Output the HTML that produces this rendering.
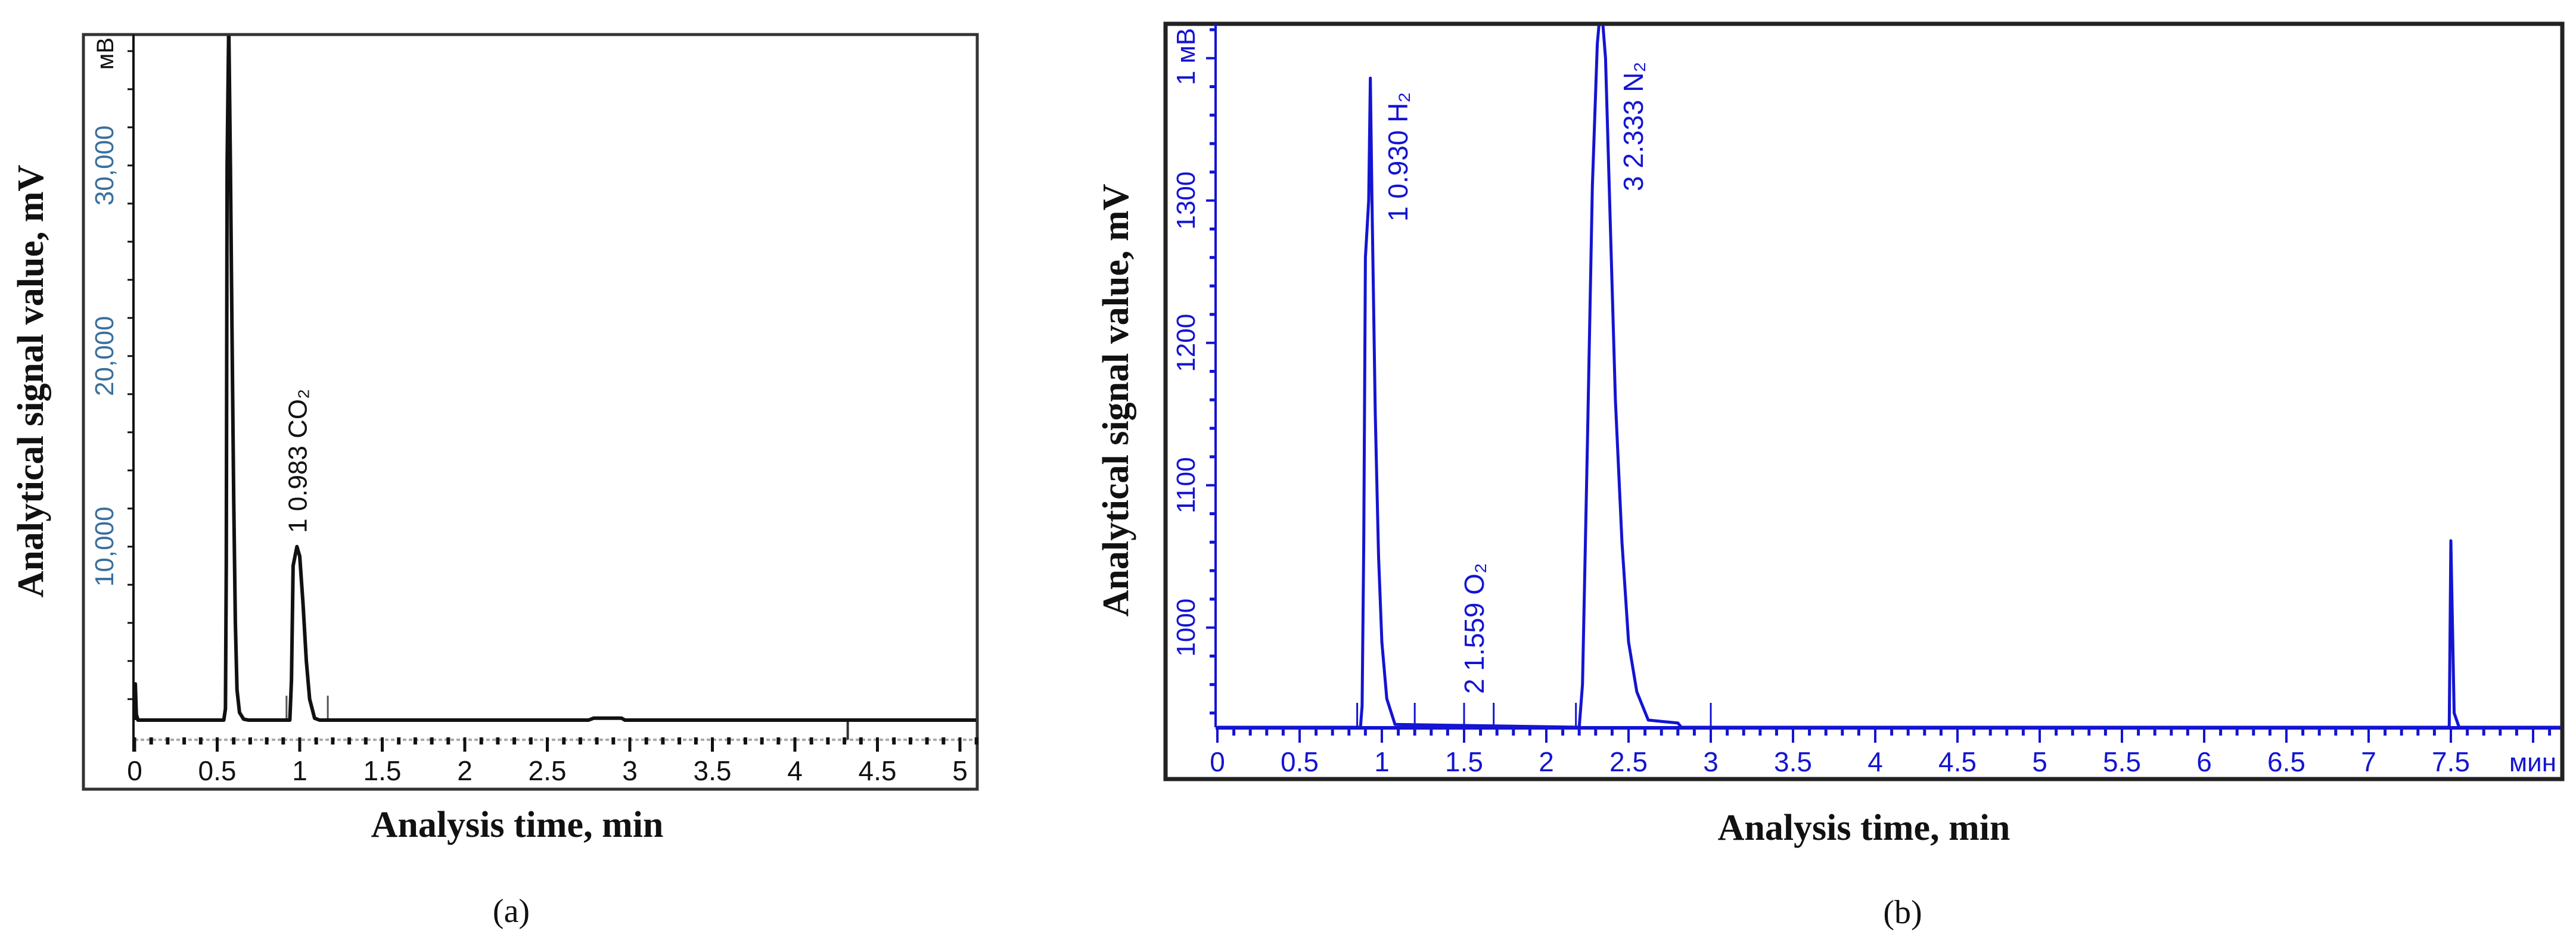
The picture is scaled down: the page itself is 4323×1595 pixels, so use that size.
<!DOCTYPE html>
<html><head><meta charset="utf-8"><style>
html,body{margin:0;padding:0;background:#fff;}
svg{display:block;}
.ttl{font-family:"Liberation Serif",serif;font-weight:bold;fill:#111;}
.cap{font-family:"Liberation Serif",serif;fill:#111;}
.tk{font-family:"Liberation Sans","DejaVu Sans",sans-serif;}
</style></head><body>
<svg id="c" width="4323" height="1595" viewBox="0 0 4323 1595" xmlns="http://www.w3.org/2000/svg">
<defs>
<clipPath id="clipA"><rect x="143" y="60" width="1495" height="1262"/></clipPath>
<clipPath id="clipB"><rect x="1960" y="43" width="2337" height="1262"/></clipPath>
</defs>
<rect x="140" y="58" width="1500" height="1267" fill="#fff" stroke="#333" stroke-width="5"/>
<rect x="1956" y="40" width="2344" height="1268" fill="#fff" stroke="#222" stroke-width="7"/>
<g id="gA"></g>
<g id="gB"></g>
<text class="ttl" x="0" y="0" font-size="62" text-anchor="middle" transform="translate(72,640) rotate(-90)">Analytical signal value, mV</text>
<text class="ttl" x="868" y="1405" font-size="62" text-anchor="middle">Analysis time, min</text>
<text class="cap" x="858" y="1548" font-size="56" text-anchor="middle">(a)</text>
<text class="ttl" x="0" y="0" font-size="62" text-anchor="middle" transform="translate(1893,672) rotate(-90)">Analytical signal value, mV</text>
<text class="ttl" x="3128" y="1410" font-size="62" text-anchor="middle">Analysis time, min</text>
<text class="cap" x="3193" y="1550" font-size="56" text-anchor="middle">(b)</text>
</svg>
<script>
// Panel A data (time min, signal mV)
const aTimes = [0,0.004,0.01,0.02,0.54,0.55,0.555,0.56,0.57,0.58,0.59,0.60,0.61,0.62,0.635,0.66,0.69,0.92,0.94,0.95,0.96,0.983,1.0,1.02,1.04,1.06,1.09,1.12,2.75,2.78,2.95,2.97,5.1];
const aValues = [900,2800,1200,900,900,1500,9000,30000,37500,30000,21000,12500,6000,2500,1300,950,900,900,900,3000,9000,10000,9500,7000,4000,2000,1000,900,900,1000,1000,900,900];
const aYTicks = [10000,20000,30000];
const aYTickLabels = ["10,000","20,000","30,000"];
const aXTicks = [0,0.5,1,1.5,2,2.5,3,3.5,4,4.5,5];
const aXTickLabels = ["0","0.5","1","1.5","2","2.5","3","3.5","4","4.5","5"];
const aMarkers = [0.92,1.17];
// Panel B data
const bTimes = [0,0.87,0.88,0.89,0.90,0.92,0.93,0.94,0.96,0.98,1.0,1.03,1.08,2.2,2.22,2.25,2.28,2.31,2.333,2.36,2.39,2.42,2.46,2.5,2.55,2.62,2.8,2.82,7.49,7.50,7.51,7.52,7.55,8.2];
const bValues = [930,930,945,1060,1260,1300,1386,1300,1150,1050,990,950,932,930,960,1130,1310,1410,1440,1400,1280,1160,1060,990,955,935,933,930,930,1061,1000,940,930,930];
const bYTicks = [1000,1100,1200,1300];
const bYTickLabels = ["1000","1100","1200","1300"];
const bXTicks = [0,0.5,1,1.5,2,2.5,3,3.5,4,4.5,5,5.5,6,6.5,7,7.5];
const bXTickLabels = ["0","0.5","1","1.5","2","2.5","3","3.5","4","4.5","5","5.5","6","6.5","7","7.5"];
const bMarkers = [0.85,1.2,1.5,1.68,2.18,3.0];

const NS="http://www.w3.org/2000/svg";
function mk(tag,attrs,parent){const e=document.createElementNS(NS,tag);for(const k in attrs)e.setAttribute(k,attrs[k]);parent.appendChild(e);return e;}
const xA=t=>226+277*t, yA=v=>1209-(v-900)*0.032;
const xB=t=>2043+276*t, yB=v=>1221-(v-930)*2.39;
const gA=document.getElementById('gA'), gB=document.getElementById('gB');

// ---- Panel A axes
let e=mk('line',{x1:224,y1:58,x2:224,y2:1262,stroke:'#111','stroke-width':4},gA);


for(let v=2000;v<=38000;v+=2000){const y=yA(v);if(y<60)continue;
 const t=mk('line',{x1:214,y1:y,x2:224,y2:y,stroke:'#111','stroke-width':3},gA);
 
 }
aYTicks.forEach((v,i)=>{const y=yA(v);
 const t=mk('text',{x:0,y:0,'font-size':44,fill:'#3b6f9c','text-anchor':'middle',class:'tk',transform:`translate(190,${y}) rotate(-90)`},gA);
 t.textContent=aYTickLabels[i];
 
 });
e=mk('text',{x:0,y:0,'font-size':40,fill:'#111','text-anchor':'middle',class:'tk',transform:'translate(190,90) rotate(-90)'},gA);
e.textContent='мВ';


e=mk('line',{x1:226,y1:1242,x2:1638,y2:1242,stroke:'#aaa','stroke-width':4,'stroke-dasharray':'6 4'},gA);


for(let k=0;k<=51;k++){const t=k/10,x=xA(t);const major=k%5===0;
 const m=mk('line',{x1:x,y1:1238,x2:x,y2:major?1262:1250,stroke:'#111','stroke-width':major?5:6},gA);
 
 }
aXTicks.forEach((t,i)=>{const l=mk('text',{x:xA(t),y:1310,'font-size':46,fill:'#111','text-anchor':'middle',class:'tk'},gA);
 l.textContent=aXTickLabels[i];
 
 });
const cA=mk('g',{'clip-path':'url(#clipA)'},gA);
aMarkers.forEach(t=>{const m=mk('line',{x1:xA(t),y1:1168,x2:xA(t),y2:1209,stroke:'#555','stroke-width':3},cA);
 
 });
e=mk('line',{x1:xA(4.32),y1:1209,x2:xA(4.32),y2:1242,stroke:'#333','stroke-width':4},cA);


e=mk('polyline',{points:aTimes.map((t,i)=>xA(t)+','+yA(aValues[i])).join(' '),fill:'none',stroke:'#111','stroke-width':6,'stroke-linejoin':'round'},cA);


e=mk('text',{x:0,y:0,'font-size':44,fill:'#111',class:'tk',transform:`translate(${xA(0.983)+16},895) rotate(-90)`},gA);
e.textContent='1 0.983 CO₂';



// ---- Panel B axes
const BL='#1414d2';
e=mk('line',{x1:2040,y1:40,x2:2040,y2:1221,stroke:BL,'stroke-width':4},gB);


for(let v=940;v<=1420;v+=20){const y=yB(v);const major=v%100===0;
 const t=mk('line',{x1:major?2024:2030,y1:y,x2:2040,y2:y,stroke:BL,'stroke-width':major?4:5},gB);
 
 }
bYTicks.forEach((v,i)=>{const y=yB(v);
 const t=mk('text',{x:0,y:0,'font-size':44,fill:BL,'text-anchor':'middle',class:'tk',transform:`translate(2005,${y}) rotate(-90)`},gB);
 t.textContent=bYTickLabels[i];
 
 });
e=mk('text',{x:0,y:0,'font-size':44,fill:BL,'text-anchor':'middle',class:'tk',transform:'translate(2005,95) rotate(-90)'},gB);
e.textContent='1 мВ';


e=mk('line',{x1:2040,y1:1222,x2:4297,y2:1222,stroke:BL,'stroke-width':6},gB);


for(let k=0;k<=81;k++){const t=k/10,x=xB(t);const major=k%5===0;
 const m=mk('line',{x1:x,y1:1222,x2:x,y2:major?1247:1235,stroke:BL,'stroke-width':major?4:5},gB);
 
 }
bXTicks.forEach((t,i)=>{const l=mk('text',{x:xB(t),y:1295,'font-size':46,fill:BL,'text-anchor':'middle',class:'tk'},gB);
 l.textContent=bXTickLabels[i];
 
 });
e=mk('text',{x:4290,y:1295,'font-size':44,fill:BL,'text-anchor':'end',class:'tk'},gB);
e.textContent='мин';


const cB=mk('g',{'clip-path':'url(#clipB)'},gB);
bMarkers.forEach(t=>{const m=mk('line',{x1:xB(t),y1:1180,x2:xB(t),y2:1221,stroke:BL,'stroke-width':3},cB);
 
 });
e=mk('polyline',{points:bTimes.map((t,i)=>xB(t)+','+yB(bValues[i])).join(' '),fill:'none',stroke:BL,'stroke-width':5,'stroke-linejoin':'round'},cB);


[["1 0.930 H₂",2362,372,'h2-peak-label'],["2 1.559 O₂",2490,1165,'o2-peak-label'],["3 2.333 N₂",2757,321,'n2-peak-label']].forEach(d=>{
 const l=mk('text',{x:0,y:0,'font-size':46,fill:BL,class:'tk',transform:`translate(${d[1]},${d[2]}) rotate(-90)`},gB);
 l.textContent=d[0];
 
 });
</script>
</body></html>
